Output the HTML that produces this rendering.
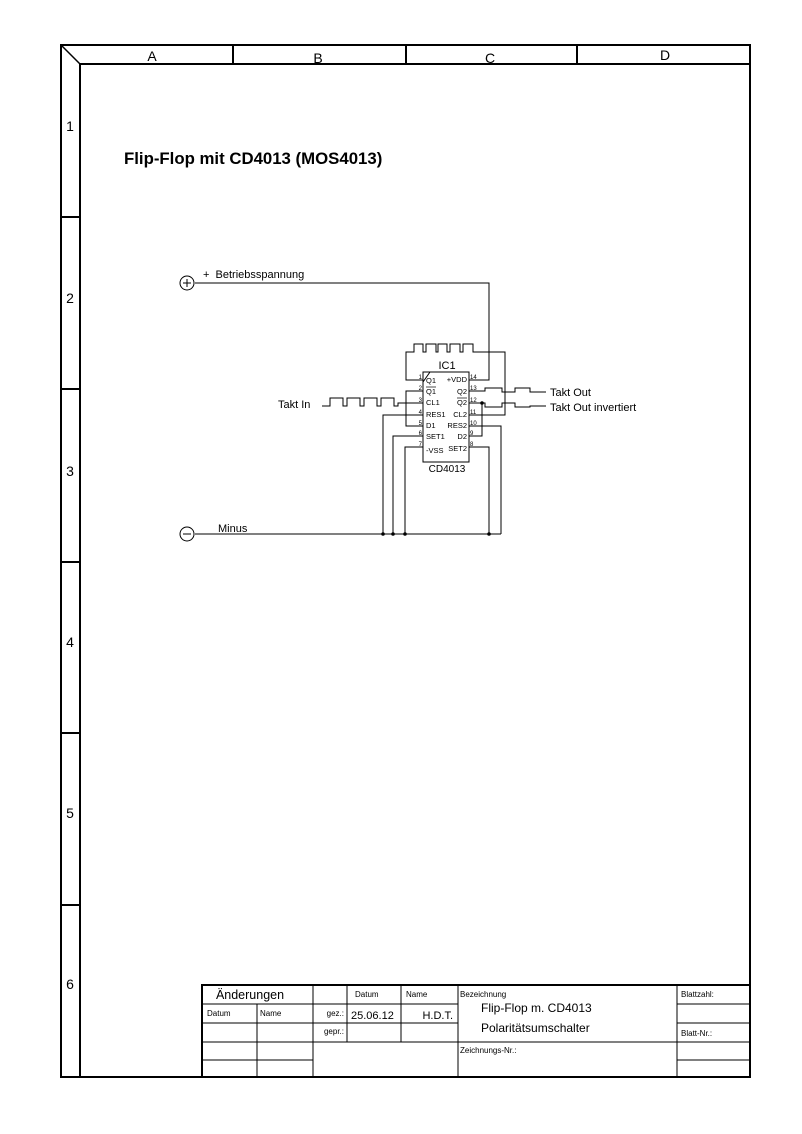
<!DOCTYPE html>
<html><head><meta charset="utf-8"><style>
html,body{margin:0;padding:0;background:#fff;}
svg{display:block;font-family:"Liberation Sans",Arial,sans-serif;}
</style></head><body>
<svg width="802" height="1134" viewBox="0 0 802 1134" xmlns="http://www.w3.org/2000/svg">
<rect width="802" height="1134" fill="#fff"/>
<g stroke="#000" fill="none" stroke-width="2">
<rect x="61" y="45" width="689" height="1032"/>
<line x1="80" y1="64" x2="750" y2="64"/>
<line x1="80" y1="64" x2="80" y2="1077"/>
<line x1="61" y1="45" x2="80" y2="64" stroke-width="1.5"/>
<line x1="233" y1="45" x2="233" y2="64"/>
<line x1="406" y1="45" x2="406" y2="64"/>
<line x1="577" y1="45" x2="577" y2="64"/>
<line x1="61" y1="217" x2="80" y2="217"/>
<line x1="61" y1="389" x2="80" y2="389"/>
<line x1="61" y1="562" x2="80" y2="562"/>
<line x1="61" y1="733" x2="80" y2="733"/>
<line x1="61" y1="905" x2="80" y2="905"/>
</g>
<g font-size="14" text-anchor="middle">
<text x="152" y="61">A</text><text x="318" y="63">B</text><text x="490" y="63">C</text><text x="665" y="60">D</text>
<text x="70" y="131">1</text><text x="70" y="303">2</text><text x="70" y="476">3</text>
<text x="70" y="647">4</text><text x="70" y="818">5</text><text x="70" y="989">6</text>
</g>
<text x="124" y="164" font-size="16.8" font-weight="bold">Flip-Flop mit CD4013 (MOS4013)</text>

<!-- title block -->
<g stroke="#000" fill="none" stroke-width="1">
<rect x="202" y="985" width="548" height="92" stroke-width="2"/>
<line x1="202" y1="1004" x2="458" y2="1004"/>
<line x1="202" y1="1023" x2="458" y2="1023"/>
<line x1="202" y1="1042" x2="750" y2="1042"/>
<line x1="202" y1="1060" x2="313" y2="1060"/>
<line x1="677" y1="1004" x2="750" y2="1004"/>
<line x1="677" y1="1023" x2="750" y2="1023"/>
<line x1="677" y1="1060" x2="750" y2="1060"/>
<line x1="257" y1="1004" x2="257" y2="1077"/>
<line x1="313" y1="985" x2="313" y2="1077"/>
<line x1="347" y1="985" x2="347" y2="1042"/>
<line x1="401" y1="985" x2="401" y2="1042"/>
<line x1="458" y1="985" x2="458" y2="1077"/>
<line x1="677" y1="985" x2="677" y2="1077"/>
</g>
<g font-size="8">
<text x="250" y="999" font-size="12.5" text-anchor="middle">Änderungen</text>
<text x="355" y="997">Datum</text><text x="406" y="997">Name</text>
<text x="460" y="997">Bezeichnung</text><text x="681" y="997">Blattzahl:</text>
<text x="207" y="1016">Datum</text><text x="260" y="1016">Name</text>
<text x="344" y="1016" text-anchor="end">gez.:</text>
<text x="344" y="1034" text-anchor="end">gepr.:</text>
<text x="351" y="1019" font-size="11">25.06.12</text>
<text x="453" y="1019" font-size="11" text-anchor="end">H.D.T.</text>
<text x="481" y="1012" font-size="12">Flip-Flop m. CD4013</text>
<text x="481" y="1032" font-size="12">Polaritätsumschalter</text>
<text x="681" y="1036">Blatt-Nr.:</text>
<text x="460" y="1053">Zeichnungs-Nr.:</text>
</g>

<!-- schematic -->
<g stroke="#000" fill="none" stroke-width="1">
<circle cx="187" cy="283" r="7"/><line x1="183" y1="283" x2="191" y2="283"/><line x1="187" y1="279" x2="187" y2="287"/>
<circle cx="187" cy="534" r="7"/><line x1="183" y1="534" x2="191" y2="534"/>
<polyline points="195,283 489,283 489,380 469,380"/>
<line x1="195" y1="534" x2="501" y2="534"/>
<rect x="423" y="372" width="46" height="90"/>
<line x1="423" y1="382" x2="430" y2="372"/>
<polyline points="423,380 406,380 406,352 414,352 414,344 423,344 423,352 426,352 426,344 436,344 436,352 438,352 438,344 447,344 447,352 450,352 450,344 460,344 460,352 463,352 463,344 473,344 473,352 505,352 505,415 469,415"/>
<polyline points="423,391 406,391 406,426 423,426"/>
<polyline points="322,406 330,406 330,398 343,398 343,406 347,406 347,398 360,398 360,406 364,406 364,398 377,398 377,406 381,406 381,398 394,398 394,406 398,406 398,403 423,403"/>
<polyline points="423,415 383,415 383,534"/>
<polyline points="423,436 393,436 393,534"/>
<polyline points="423,447 405,447 405,534"/>
<polyline points="469,447 489,447 489,534"/>
<polyline points="469,426 501,426 501,534"/>
<polyline points="469,436 482,436 482,403"/>
<polyline points="469,391 485,391 485,388 502,388 502,392 515,392 515,388 530,388 530,392 546,392"/>
<polyline points="469,403 485,403 485,407 502,407 502,403 515,403 515,407 530,407 530,406 546,406"/>
</g>
<g fill="#000">
<circle cx="383" cy="534" r="1.8"/><circle cx="393" cy="534" r="1.8"/><circle cx="405" cy="534" r="1.8"/><circle cx="489" cy="534" r="1.8"/><circle cx="482" cy="403" r="1.8"/>
</g>
<g font-size="11">
<text x="203" y="278">+&#160;&#160;Betriebsspannung</text>
<text x="218" y="532">Minus</text>
<text x="278" y="408">Takt In</text>
<text x="550" y="396">Takt Out</text>
<text x="550" y="411">Takt Out invertiert</text>
<text x="447" y="369" text-anchor="middle">IC1</text>
<text x="447" y="472" font-size="10" text-anchor="middle">CD4013</text>
</g>
<g font-size="7.5">
<text x="426" y="383">Q1</text><text x="426" y="394">Q1</text><line x1="426" y1="387" x2="436" y2="387" stroke="#000" stroke-width="0.7"/>
<text x="426" y="405">CL1</text><text x="426" y="417">RES1</text><text x="426" y="428">D1</text>
<text x="426" y="439">SET1</text><text x="426" y="453">-VSS</text>
<g text-anchor="end">
<text x="467" y="382">+VDD</text><text x="467" y="394">Q2</text><text x="467" y="405">Q2</text>
<text x="467" y="417">CL2</text><text x="467" y="428">RES2</text><text x="467" y="439">D2</text><text x="467" y="451">SET2</text>
</g>
<line x1="457" y1="398" x2="467" y2="398" stroke="#000" stroke-width="0.7"/>
</g>
<g font-size="6">
<g text-anchor="end"><text x="422" y="379">1</text><text x="422" y="390">2</text><text x="422" y="402">3</text><text x="422" y="414">4</text><text x="422" y="425">5</text><text x="422" y="435">6</text><text x="422" y="446">7</text></g>
<text x="470" y="379">14</text><text x="470" y="390">13</text><text x="470" y="402">12</text><text x="470" y="414">11</text><text x="470" y="425">10</text><text x="470" y="435">9</text><text x="470" y="446">8</text>
</g>
</svg>
</body></html>
